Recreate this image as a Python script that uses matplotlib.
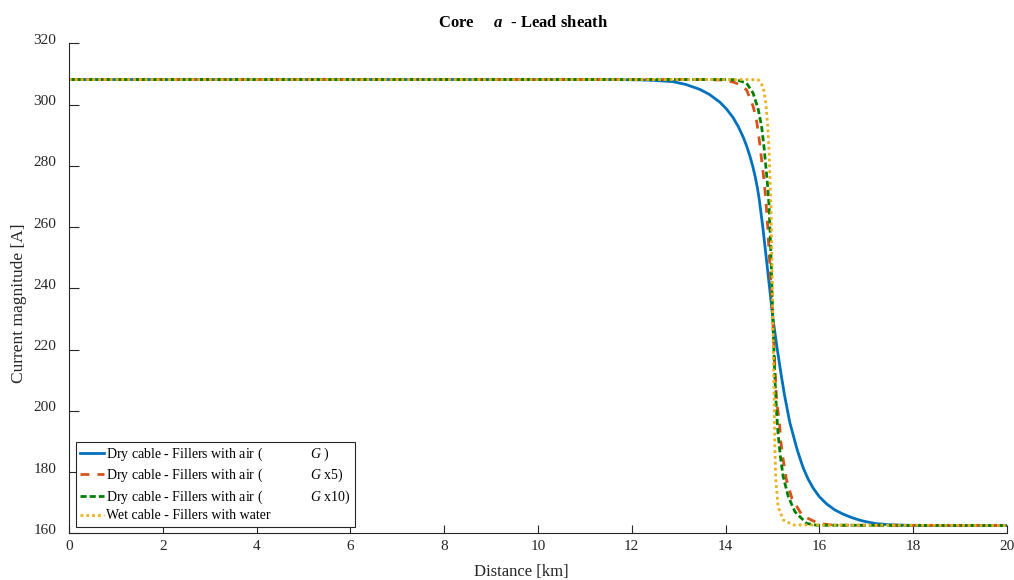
import matplotlib
matplotlib.use("Agg")
import matplotlib.pyplot as plt
from matplotlib.transforms import ScaledTranslation

plt.rcParams['font.family'] = ['Liberation Serif', 'DejaVu Serif']
plt.rcParams['mathtext.fontset'] = 'custom'
plt.rcParams['mathtext.rm'] = 'Liberation Serif'
plt.rcParams['mathtext.it'] = 'Liberation Serif:italic'
plt.rcParams['mathtext.bf'] = 'Liberation Serif:bold'
plt.rcParams['mathtext.bfit'] = 'Liberation Serif:bold:italic'

# dados (distancia em km, corrente em A)
x_dry = [0, 11.5, 12.17, 12.5, 12.88, 13.15, 13.45, 13.65, 13.88, 14.02, 14.16, 14.27,
         14.38, 14.45, 14.52, 14.58, 14.63, 14.68, 14.72, 14.80, 14.93, 15.01, 15.10,
         15.19, 15.26, 15.37, 15.52, 15.59, 15.66, 15.76, 15.87, 16.0, 16.16, 16.33,
         16.51, 16.69, 16.87, 17.04, 17.22, 17.5, 17.9, 18.5, 20]
y_dry = [308.2, 308.2, 308.1, 307.9, 307.5, 306.6, 305.0, 303.4, 300.8, 298.6, 295.8, 292.9,
         289.3, 286.5, 283.2, 279.9, 276.7, 272.8, 269.0, 259.4, 241.5, 230.3, 220.5,
         211.5, 205.0, 196.3, 187.8, 184.4, 181.3, 177.8, 174.8, 172.0, 169.6, 167.7,
         166.3, 165.2, 164.3, 163.7, 163.2, 162.85, 162.65, 162.6, 162.6]

x_dry5 = [0, 13.5, 14.0, 14.20, 14.33, 14.45, 14.59, 14.66, 14.72, 14.77, 14.82, 14.86,
          14.90, 14.95, 15.01, 15.05, 15.09, 15.15, 15.18, 15.23, 15.30, 15.42, 15.64,
          15.98, 16.3, 20]
y_dry5 = [308.2, 308.2, 308.0, 307.2, 306.3, 304.8, 299.4, 295.0, 288.5, 282.0, 275.4, 268.9,
          260, 246, 229.7, 215, 203, 196.5, 190.0, 184.0, 177.5, 171.3, 165.8,
          163.3, 162.7, 162.6]

x_dry10 = [0, 14.0, 14.24, 14.45, 14.59, 14.70, 14.77, 14.82, 14.86, 14.90, 14.93, 14.97,
           15.01, 15.05, 15.09, 15.12, 15.17, 15.23, 15.34, 15.48, 15.73, 15.94, 20]
y_dry10 = [308.2, 308.2, 308.1, 307.0, 303.7, 298.3, 292.8, 286.3, 279.8, 273.2, 266.7, 250,
           229.7, 211.8, 199.2, 192.7, 185.1, 178.5, 172.0, 167.1, 163.3, 162.7, 162.6]

x_wet = [0, 14.5, 14.70, 14.80, 14.86, 14.90, 14.93, 14.95, 14.97, 15.00, 15.03, 15.05,
         15.07, 15.12, 15.23, 15.44, 20]
y_wet = [308.2, 308.2, 308.1, 305.9, 300.5, 292.8, 284.1, 275.4, 266.7, 240, 210, 190,
         178, 168.8, 164.4, 162.8, 162.6]

espaco = " " * 14
labels = ["Dry cable - Fillers with air (" + espaco + "$G$ )",
          "Dry cable - Fillers with air (" + espaco + "$G$ x5)",
          "Dry cable - Fillers with air (" + espaco + "$G$ x10)",
          "Wet cable - Fillers with water"]

fig = plt.figure(figsize=(10.14, 5.8), dpi=100)
ax = fig.add_axes([0.068, 0.0802, 0.925, 0.845])

ax.plot(x_dry, y_dry, color='#0072BD', lw=2, label=labels[0])
ax.plot(x_dry5, y_dry5, color='#D95319', lw=2, dashes=(3.2, 2.9), label=labels[1])
ax.plot(x_dry10, y_dry10, color='#008000', lw=2, dashes=(2.2, 1.1), label=labels[2])
ax.plot(x_wet, y_wet, color='#EDB120', lw=2, dashes=(1, 1.1), label=labels[3])

ax.set_xlim(0, 20)
ax.set_ylim(160, 320)
ax.set_xticks(range(0, 21, 2))
ax.set_yticks(range(160, 321, 20))

for s in ['top', 'right']:
    ax.spines[s].set_visible(False)
for s in ['left', 'bottom']:
    ax.spines[s].set_color('#262626')
    ax.spines[s].set_linewidth(0.8)
ax.tick_params(direction='in', width=0.8, colors='#262626', labelsize=11)
ax.tick_params(axis='y', length=7, pad=9)
ax.tick_params(axis='x', length=5.5, pad=5)

# rotulos do eixo y ficam um pouco acima dos ticks (como no original)
sobe = ScaledTranslation(0, 4.5 / 100, fig.dpi_scale_trans)
for lab in ax.get_yticklabels():
    lab.set_transform(lab.get_transform() + sobe)

t = ax.set_title("Core     $\\mathbfit{a}$  - Lead sheath", fontsize=12, fontweight='bold', pad=11.5)
t.set_x(0.484)
ax.set_xlabel("Distance [km]", fontsize=12, color='#262626')
ax.xaxis.set_label_coords(0.482, -0.062)
ax.set_ylabel("Current magnitude [A]", fontsize=12.5, color='#262626')
ax.yaxis.set_label_coords(-0.045, 0.47)

leg = ax.legend(loc='lower left', bbox_to_anchor=(0.0075, 0.014), fontsize=10,
                fancybox=False, framealpha=1, edgecolor='#262626', handlelength=1.75,
                handletextpad=0.1, borderpad=0.3, labelspacing=0.28, borderaxespad=0)
leg.get_frame().set_linewidth(0.8)

fig.savefig("out.png", dpi=100)
